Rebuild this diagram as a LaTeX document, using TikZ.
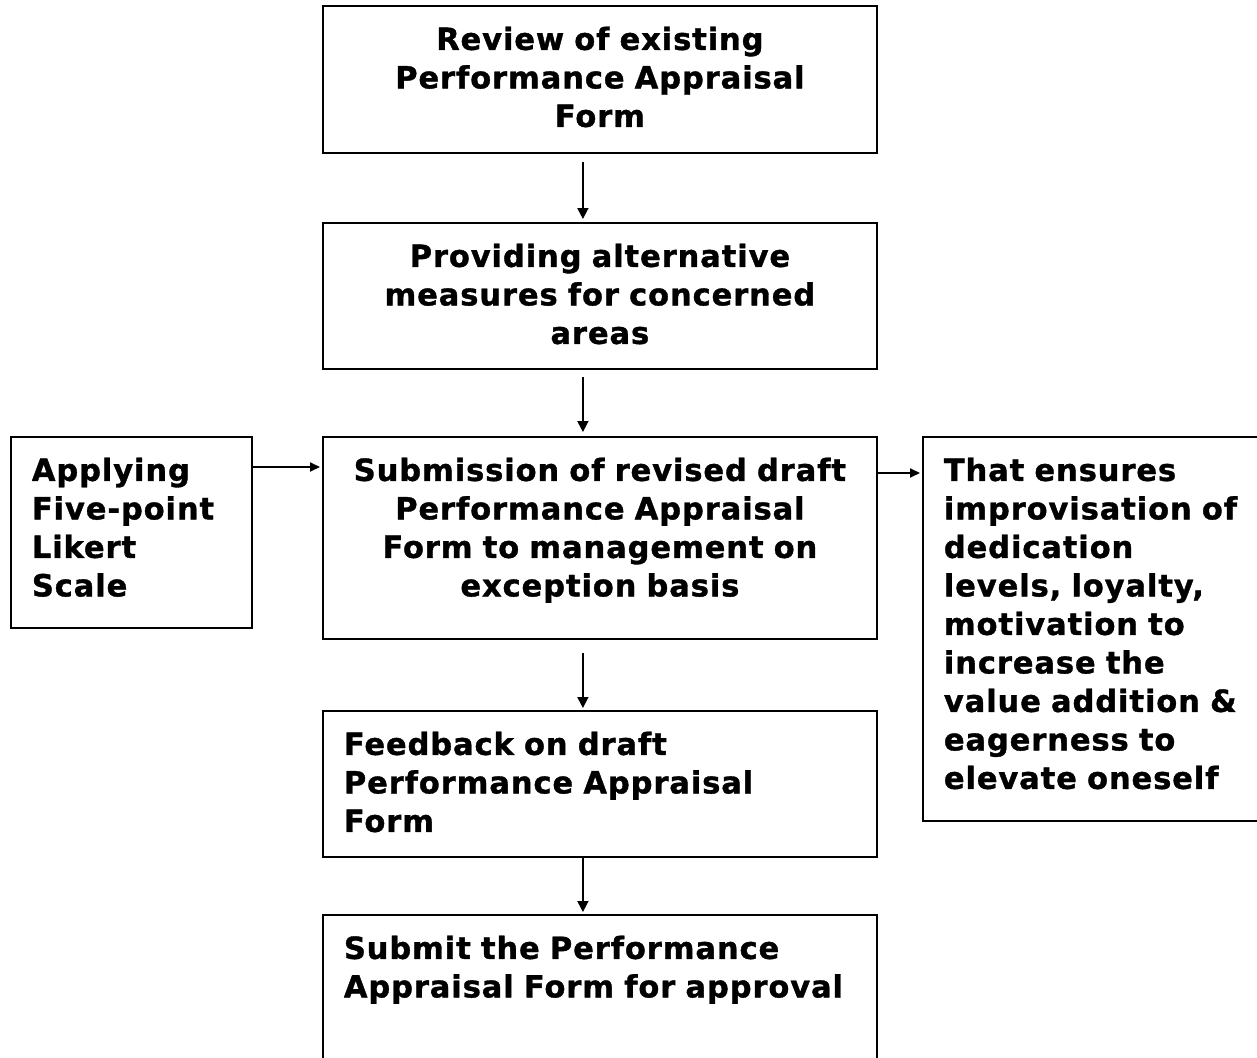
\documentclass[tikz,border=0pt]{standalone}
\usepackage{fontspec}
\setmainfont[LetterSpace=3.0,BoldFeatures={FakeBold=1.2}]{DejaVu Sans}
\usepackage{tikz}
\usetikzlibrary{arrows.meta,positioning}

\begin{document}
\begin{tikzpicture}[x=1pt,y=-1pt,font=\fontsize{30.5}{38.5}\selectfont\bfseries,
  blk/.style={draw=black,line width=1.8pt,anchor=north west,inner xsep=21pt,inner ysep=0pt,
              text height=44pt,text width=#1},
  mid/.style={blk=512pt,align=center},
  lft/.style={blk=#1,align=left},
  a/.style={-{Triangle[length=11pt,width=11pt]},line width=1.8pt},
  h/.style={-{Triangle[length=10pt,width=9pt]},line width=1.8pt}]

\useasboundingbox (0,0) rectangle (1257,1057);
\clip (0,0) rectangle (1257,1057);

\node[mid,text depth=103pt](rev) at (322,5){Review of existing\\Performance Appraisal\\Form};
\node[mid,text depth=102pt](alt) at (322,222){Providing alternative\\measures for concerned\\areas};
\node[mid,text depth=158pt](sub) at (322,436){Submission of revised draft\\Performance Appraisal\\Form to management on\\exception basis};
\node[lft=199pt,text depth=147pt](lik) at (10,436){Applying\\Five-point\\Likert\\Scale};
\node[lft=318pt,text depth=340pt](ens) at (922,436){That ensures\\improvisation of\\dedication\\levels, loyalty,\\motivation to\\increase the\\value addition \&\\eagerness to\\elevate oneself};
\node[lft=512pt,text depth=102pt](fbk) at (322,710){Feedback on draft\\Performance Appraisal\\Form};
\node[lft=512pt,text depth=126pt](apr) at (322,914){Submit the Performance\\Appraisal Form for approval};

\draw[a]([xshift=-17pt,yshift=-8pt]rev.south)--([xshift=-17pt,yshift=3pt]alt.north);
\draw[a]([xshift=-17pt,yshift=-7pt]alt.south)--([xshift=-17pt,yshift=4pt]sub.north);
\draw[a]([xshift=-17pt,yshift=-13pt]sub.south)--([xshift=-17pt,yshift=2pt]fbk.north);
\draw[a]([xshift=-17pt]fbk.south)--([xshift=-17pt,yshift=2pt]apr.north);
\draw[h]([yshift=-31pt]lik.north east)--([xshift=-2pt,yshift=-31pt]sub.north west);
\draw[h]([yshift=-37pt]sub.north east)--([xshift=-2pt,yshift=-37pt]ens.north west);
\end{tikzpicture}
\end{document}
